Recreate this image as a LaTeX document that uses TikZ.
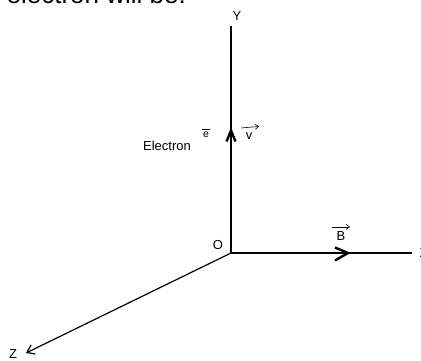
\documentclass[tikz,border=0pt]{standalone}
\usepackage{fontspec}
\setmainfont{Liberation Sans}
\usepackage{tikz}
\usetikzlibrary{arrows.meta}
\def\lblsize{\fontsize{13}{15}\selectfont}
\def\vecsize{\fontsize{10.5}{12}\selectfont}

\begin{document}
\begin{tikzpicture}[x=1pt, y=-1pt, line width=1.2pt,
		lbl/.style={inner sep=0pt, font=\lblsize},
		small/.style={inner sep=0pt, font=\vecsize},
		vecarrow/.style={line width=0.6pt, -{Straight Barb[length=3.5pt,width=5pt]}},
		chev/.style={line width=2.4pt, line join=miter}]
		\useasboundingbox (0,0) rectangle (421,361);
		% axes
		\coordinate (o) at (231,253);
		\coordinate (ytip) at (231,26);
		\coordinate (xtip) at (412,253);
		\coordinate (ztip) at (26,353);
		\draw (o) -- (ytip);
		\draw (o) -- (xtip);
		\draw[-{Straight Barb[length=7pt,width=10pt]}] (o) -- (ztip);
		\node[lbl] (ylbl) at (237,16) {Y};
		\node[lbl] (xlbl) at (424,253) {X};
		\node[lbl] (zlbl) at (13,354) {Z};
		\node[lbl] (olbl) at (218,245) {O};
		% direction marks
		\draw[chev] (226.5,141.5) -- (231,130.5) -- (235.5,141.5);
		\draw[chev] (335,247.5) -- (348,253) -- (335,260.5);
		% labels
		\node[lbl] (electron) at (167,146) {Electron};
		\node[small] (ebar) at (206,134.5) {e};
		\draw[line width=0.6pt] ([yshift=2pt]ebar.north west) -- ([yshift=2pt]ebar.north east);
		\node[lbl] (vel) at (249,136) {v};
		\draw[vecarrow] ([xshift=-4pt,yshift=4pt]vel.north west) -- ++(18,-1.5);
		\node[lbl] (field) at (341,236) {B};
		\draw[vecarrow] ([xshift=-4pt,yshift=4pt]field.north west) -- ++(18,0);
		% question text, cut at the top
		\node[anchor=base west, inner sep=0pt, font=\fontsize{26}{30}\selectfont] (qtext) at (6,3.5) {electron will be:};
	\end{tikzpicture}
\end{document}
